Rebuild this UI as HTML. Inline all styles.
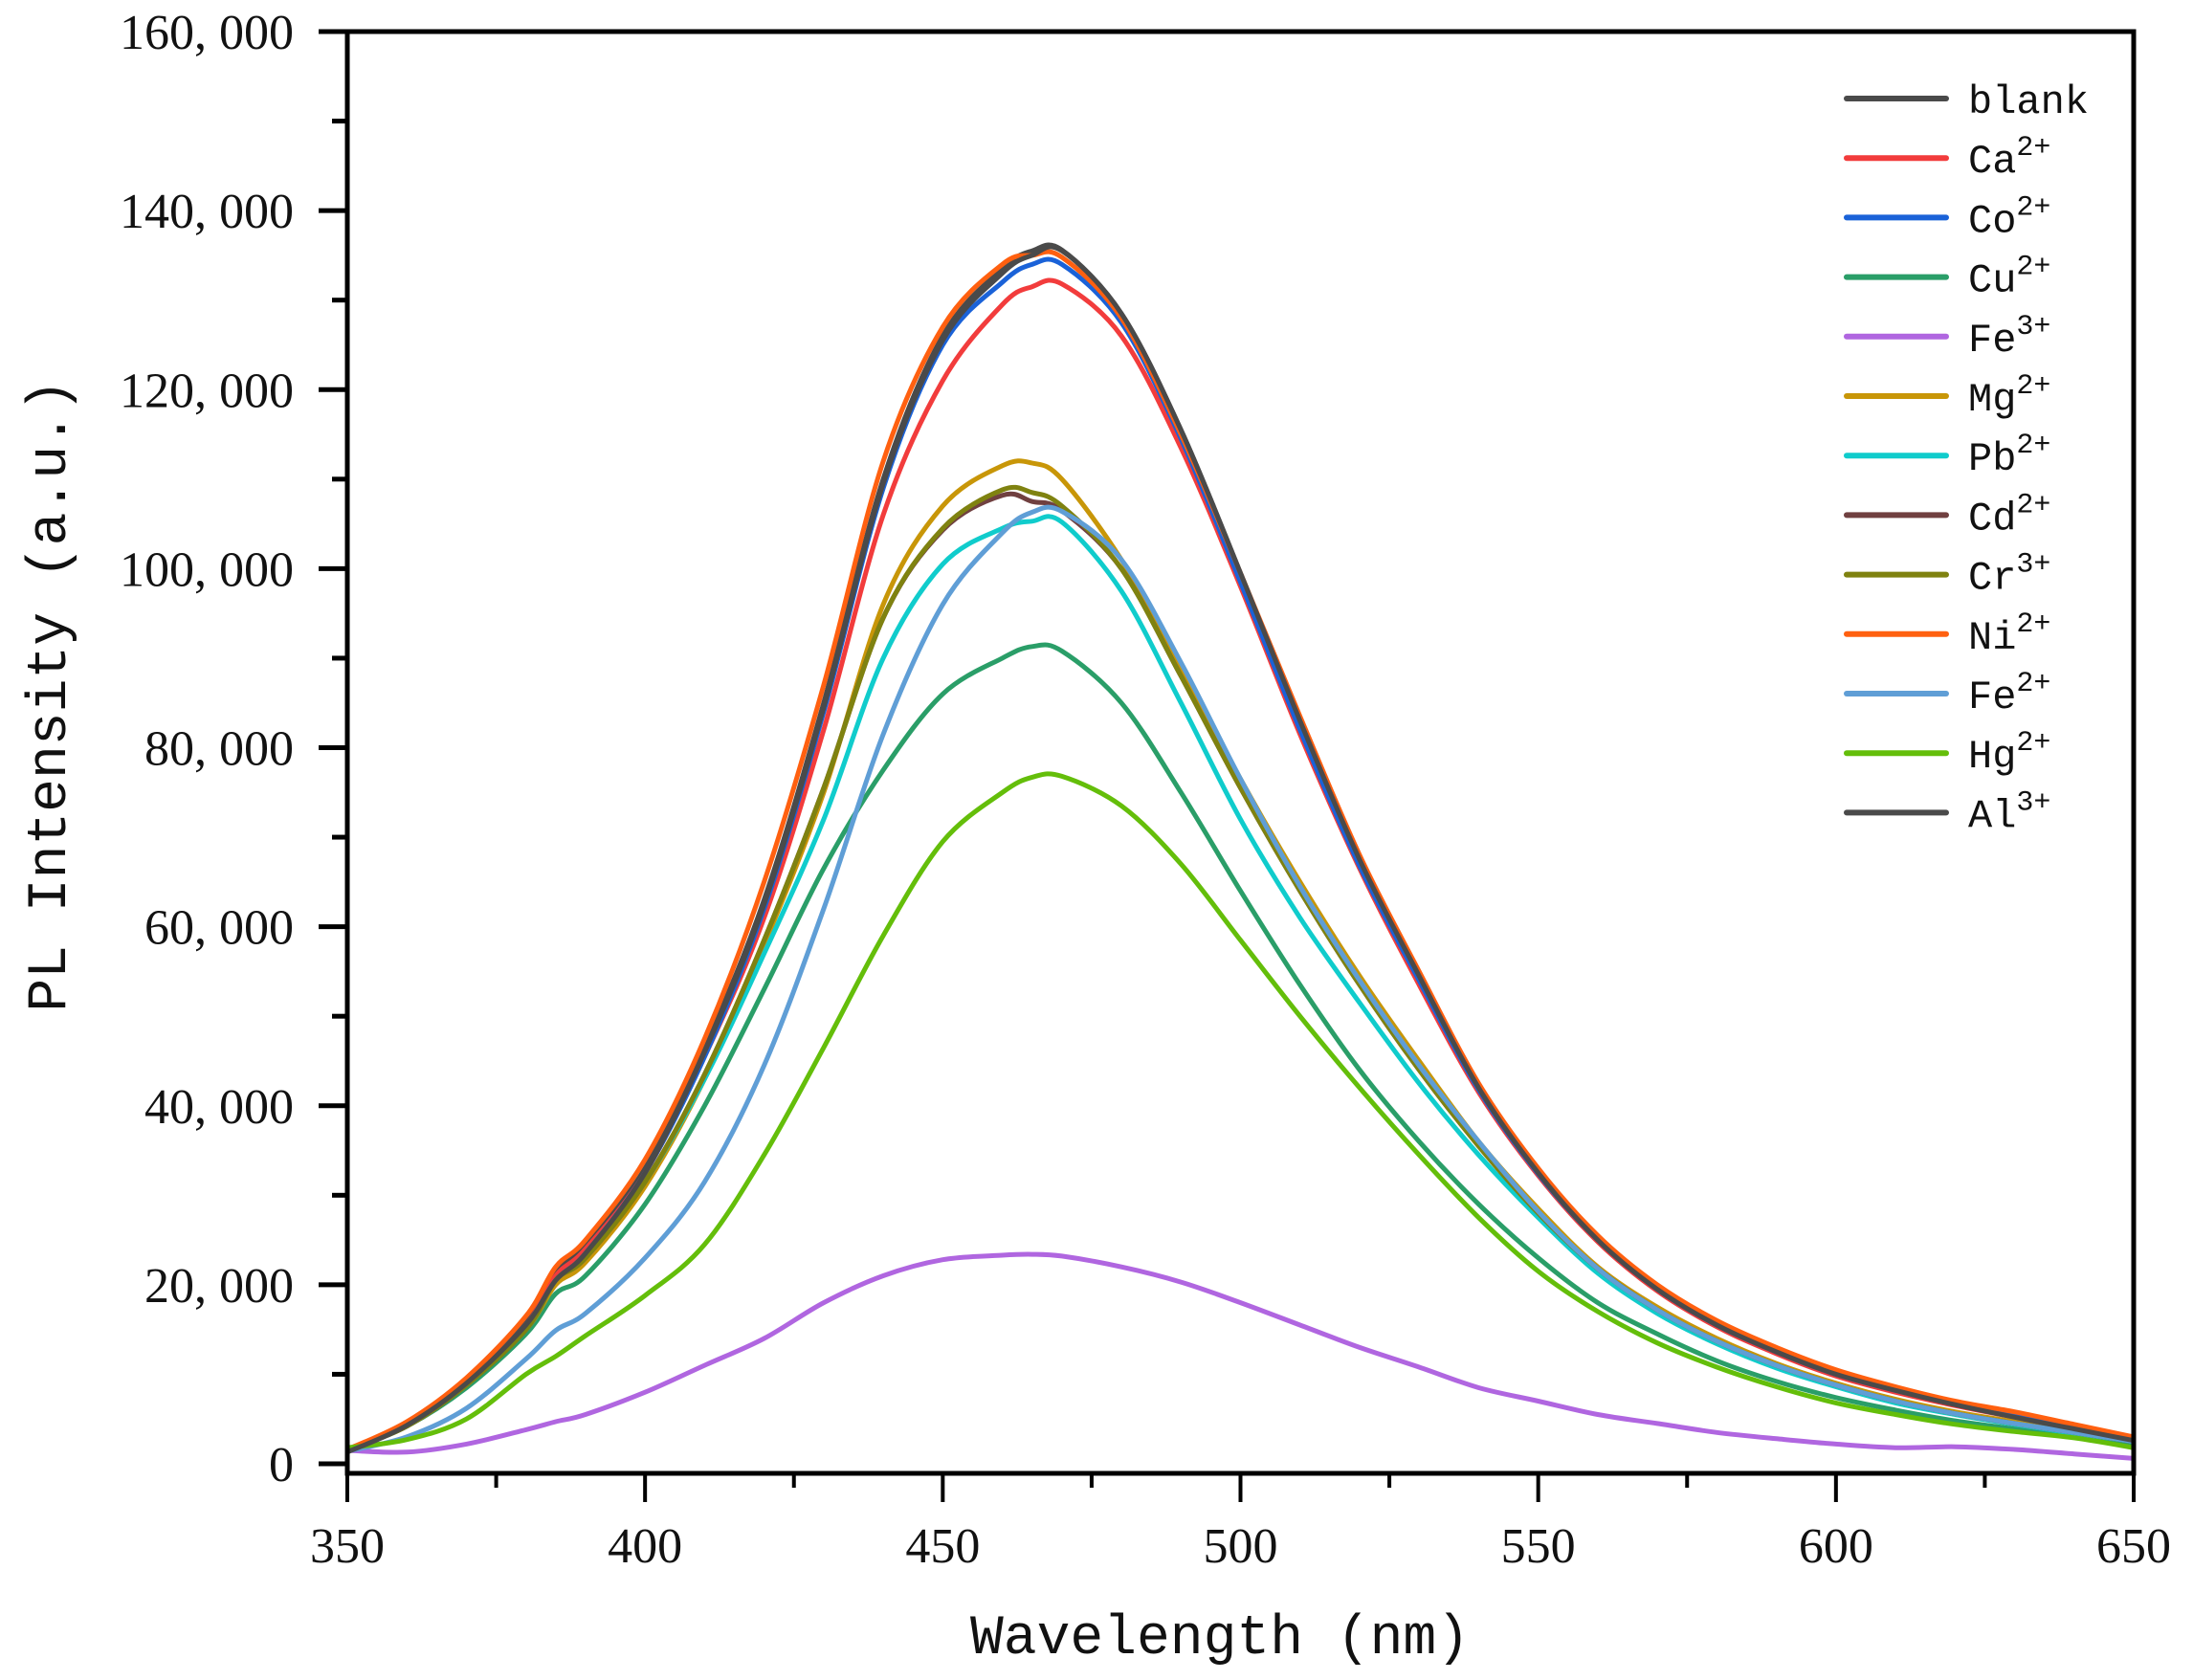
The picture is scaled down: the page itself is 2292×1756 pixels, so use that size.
<!DOCTYPE html>
<html><head><meta charset="utf-8"><style>
body{margin:0;background:#fff;}
svg{display:block;}
text{font-family:"Liberation Serif",serif;fill:#111;}
.mono{font-family:"Liberation Mono",monospace;}
</style></head><body>
<svg id="chart" width="2292" height="1756" viewBox="0 0 2292 1756" xmlns="http://www.w3.org/2000/svg">
<g id="series"></g>
<g id="axes"></g>
<g id="legend"></g>
<text class="mono" x="1275" y="1728" font-size="58" text-anchor="middle">Wavelength (nm)</text>
<text class="mono" transform="translate(68,727) rotate(-90)" font-size="58" text-anchor="middle">PL Intensity (a.u.)</text>
</svg>
<script>
const wavelengths=[350,360,370,380,385,390,400,410,420,430,440,450,460,465,470,480,490,500,510,520,530,540,550,560,570,580,590,600,610,620,630,640,650];
const seriesNames=["blank","Ca","Co","Cu","Fe3","Mg","Pb","Cd","Cr","Ni","Fe2","Hg","Al"];
const seriesLabels=["blank","Ca","Co","Cu","Fe","Mg","Pb","Cd","Cr","Ni","Fe","Hg","Al"];
const seriesCharges=["","2+","2+","2+","3+","2+","2+","2+","3+","2+","2+","2+","3+"];
const seriesColors=["#4a4a4a","#f23c3c","#1a62d8","#2a9e68","#b066e0","#c89608","#10cccc","#704040","#7f8210","#ff6010","#5f9ed6","#64be0a","#4a4a4a"];
const blank=[1600,4500,9300,16000,21500,24500,33000,46500,63000,85000,110000,126000,133500,135500,135600,128500,115500,99500,82700,67500,54500,42000,32500,25000,19500,15500,12500,10000,8200,6700,5300,4000,2700];
const ca=[1500,4400,9000,15500,21000,24000,32500,45500,61000,82000,106000,121000,129500,131500,131800,126000,113500,98000,81500,66500,53500,41500,32200,24800,19300,15300,12300,9800,8000,6500,5200,3900,2600];
const co=[1500,4400,9000,15500,20500,23500,32500,45500,62000,84000,109000,125000,132000,134000,134000,127500,114500,98500,82000,66800,54000,41800,32400,25000,19500,15500,12500,10000,8200,6700,5300,4100,2800];
const cu=[1500,4200,8500,14500,19000,21000,29000,40000,53000,66500,77500,86000,90000,91300,90800,85000,75000,64000,53500,44000,36000,29000,23000,18000,14500,11500,9200,7400,6000,4800,3900,3100,2300];
const fe3=[1500,1300,2200,3800,4700,5500,8000,11000,14000,18000,21000,22800,23300,23400,23200,22000,20300,18000,15500,13000,10800,8500,7000,5500,4500,3500,2800,2200,1800,1900,1600,1100,600];
const mg=[1500,4200,8800,15000,20000,22500,31000,43000,58000,75000,96000,107000,111500,111800,110000,101000,89000,76500,65000,54500,45000,36000,28500,22000,17500,14000,11200,9000,7200,5800,4700,3700,2700];
const pb=[1500,4200,8800,15000,20500,23000,31500,43000,57000,72000,90000,100500,104500,105300,105200,97500,85000,72000,61000,51500,42500,34500,27500,21300,16800,13400,10700,8600,6800,5500,4400,3400,2500];
const cd=[1500,4200,8800,15000,20500,23000,31500,43500,58500,75500,94500,104300,108200,107500,106500,100000,88000,75500,64000,53500,44000,35500,28000,21800,17200,13700,11000,8800,7000,5600,4500,3500,2500];
const cr=[1500,4200,8800,15000,20500,23000,31500,43500,58500,75500,94500,104500,108800,108500,107000,100000,88000,75500,64000,53500,44000,35500,28000,21800,17200,13700,11000,8800,7000,5600,4500,3500,2500];
const ni=[1600,4700,9600,16500,22000,25000,34000,47500,65000,87000,112000,127000,134000,135000,134800,128000,115000,99500,83500,68000,55000,42500,33000,25500,20000,16000,13000,10500,8600,7000,5800,4400,3000];
const fe2=[1400,3000,6200,11700,14900,16800,23000,31500,44500,62000,81500,96000,104000,106300,106400,101000,89500,76500,64500,54000,44500,36000,28200,21800,17200,13700,11000,8800,7000,5600,4500,3500,2500];
const hg=[1800,2700,5000,10000,12000,14300,18800,24500,34500,46500,59000,69500,75000,76700,76800,73500,67000,58500,50000,42000,34500,27500,21500,17000,13500,10800,8600,6800,5500,4400,3600,2900,1800];
const al=[1300,4300,9000,15500,20500,23500,32500,46000,62500,84500,109500,125500,133000,135000,135500,128500,115500,99500,83000,67500,54500,42000,32500,25000,19500,15500,12500,10000,8200,6600,5200,3900,2600];
const seriesValues=[blank,ca,co,cu,fe3,mg,pb,cd,cr,ni,fe2,hg,al];
const xTicks=[350,400,450,500,550,600,650];
const yTicks=[0,20000,40000,60000,80000,100000,120000,140000,160000];
const yTickLabels=["0","20, 000","40, 000","60, 000","80, 000","100, 000","120, 000","140, 000","160, 000"];

const NS="http://www.w3.org/2000/svg";
const X0=363,X1=2230,Y0=1530,Y1=33;
function xs(v){return X0+(v-350)/(650-350)*(X1-X0);}
function ys(v){return Y0-(v/160000)*(Y0-Y1);}
function mk(tag,attrs,parent){const e=document.createElementNS(NS,tag);for(const k in attrs)e.setAttribute(k,attrs[k]);parent.appendChild(e);return e;}

const sg=document.getElementById('series');
seriesValues.forEach((vals,si)=>{
  const pts=wavelengths.map((w,i)=>[xs(w),ys(vals[i])]);
  let d="M"+pts[0][0].toFixed(1)+","+pts[0][1].toFixed(1);
  for(let i=0;i<pts.length-1;i++){
    const p0=pts[Math.max(0,i-1)],p1=pts[i],p2=pts[i+1],p3=pts[Math.min(pts.length-1,i+2)];
    const c1=[p1[0]+(p2[0]-p0[0])/6,p1[1]+(p2[1]-p0[1])/6];
    const c2=[p2[0]-(p3[0]-p1[0])/6,p2[1]-(p3[1]-p1[1])/6];
    d+=" C"+c1[0].toFixed(1)+","+c1[1].toFixed(1)+" "+c2[0].toFixed(1)+","+c2[1].toFixed(1)+" "+p2[0].toFixed(1)+","+p2[1].toFixed(1);
  }
  const p=mk('path',{d:d,fill:'none',stroke:seriesColors[si],'stroke-width':5,'stroke-linejoin':'round'},sg);
  
  
});

const ag=document.getElementById('axes');
const frame=mk('rect',{x:X0,y:Y1,width:X1-X0,height:1540-Y1,fill:'none',stroke:'#000','stroke-width':5},ag);


for(let v=350;v<=650;v+=25){
  const major=(v%50===0);
  const t=mk('line',{x1:xs(v),x2:xs(v),y1:1540,y2:major?1570:1555,stroke:'#000','stroke-width':4},ag);
  
  
}
xTicks.forEach(v=>{
  const t=mk('text',{x:xs(v),y:1633,'font-size':52,'text-anchor':'middle'},ag);
  t.textContent=String(v);
  
  
});
for(let v=0;v<=160000;v+=10000){
  const major=(v%20000===0);
  const t=mk('line',{x1:major?333:347,x2:X0,y1:ys(v),y2:ys(v),stroke:'#000','stroke-width':5},ag);
  
  
}
yTicks.forEach((v,i)=>{
  const t=mk('text',{x:307,y:ys(v)+18,'font-size':52,'text-anchor':'end'},ag);
  t.textContent=yTickLabels[i];
  
  
});

const lg=document.getElementById('legend');
seriesNames.forEach((n,i)=>{
  const y=103+i*62.2;
  const l=mk('line',{x1:1930,x2:2034,y1:y,y2:y,stroke:seriesColors[i],'stroke-width':6,'stroke-linecap':'round'},lg);
  
  
  const t=mk('text',{x:2057,y:y+15,'font-size':42,'class':'mono'},lg);
  
  
  t.textContent=seriesLabels[i];
  if(seriesCharges[i]){
    const s=document.createElementNS(NS,'tspan');
    s.setAttribute('font-size','30');
    s.setAttribute('dy','-18');
    s.textContent=seriesCharges[i];
    t.appendChild(s);
  }
});
</script>
</body></html>
